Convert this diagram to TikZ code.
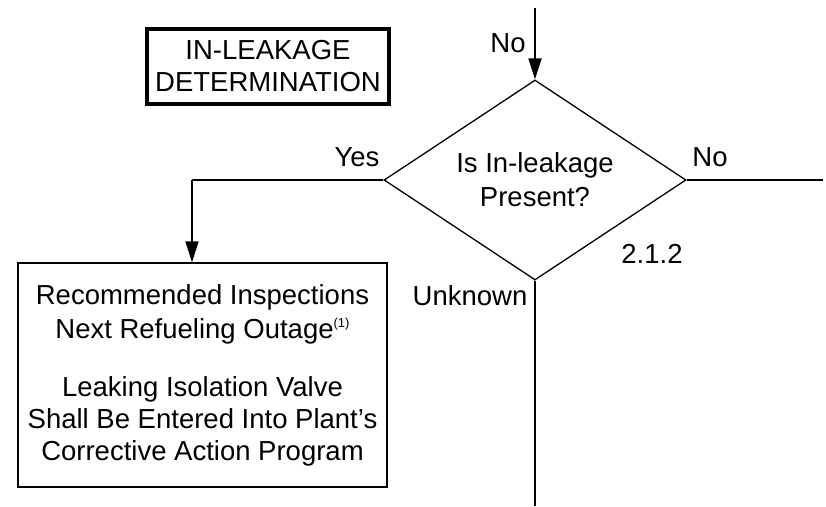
\documentclass[tikz,border=0pt]{standalone}
\usepackage{fontspec}
\setmainfont{Liberation Sans}
\usetikzlibrary{arrows.meta,shapes.geometric}
\tikzstyle{dec}=[diamond,aspect=1.5,draw=black,line width=1.3pt,minimum width=302pt,
  minimum height=200pt,inner sep=0pt,align=center]
\tikzstyle{act}=[rectangle,draw=black,line width=1.4pt,minimum width=369pt,
  minimum height=224pt,inner sep=0pt,align=center]
\tikzstyle{ttl}=[rectangle,draw=black,line width=4.5pt,minimum width=242pt,
  minimum height=75pt,inner sep=0pt,align=center]
\tikzstyle{lbl}=[inner sep=0pt]
\tikzstyle{flow}=[line width=1.4pt]
\tikzstyle{arr}=[line width=1.8pt,-{Triangle[length=21pt,width=13pt]}]

\begin{document}
\begin{tikzpicture}[x=1pt, y=-1pt,
    every node/.style={font=\fontsize{27.5}{32}\selectfont}]
    \useasboundingbox (0, 0) rectangle (826, 506);
    \node [style=ttl] (title) at (268, 66.5) {IN-LEAKAGE\\DETERMINATION};
    \node [style=dec] (q) at (535, 180)
      {Is In-leakage\\[2pt]Present?};
    \node [style=act] (insp) at (202.5, 375)
      {Recommended Inspections\\[2pt]
       Next Refueling Outage\raisebox{11pt}{\fontsize{13}{13}\selectfont(1)}\\[26pt]
       Leaking Isolation Valve\\
       Shall Be Entered Into Plant's\\
       Corrective Action Program};
    \coordinate (in) at (535, 8);
    \coordinate (bend) at (192, 180);
    \coordinate (outno) at (823, 180);
    \coordinate (outunk) at (535, 506);
    \node [style=lbl] (lno1) at (508, 43) {No};
    \node [style=lbl] (lyes) at (357, 157) {Yes};
    \node [style=lbl] (lno2) at (710, 157) {No};
    \node [style=lbl] (lsec) at (652, 254) {2.1.2};
    \node [style=lbl] (lunk) at (470, 296) {Unknown};
    \draw [style=arr] (in) to (q.north);
    \draw [style=flow] (q.west) to (bend);
    \draw [style=arr] (bend) to (bend |- insp.north);
    \draw [style=flow] (q.east) to (outno);
    \draw [style=flow] (q.south) to (outunk);
\end{tikzpicture}
\end{document}
